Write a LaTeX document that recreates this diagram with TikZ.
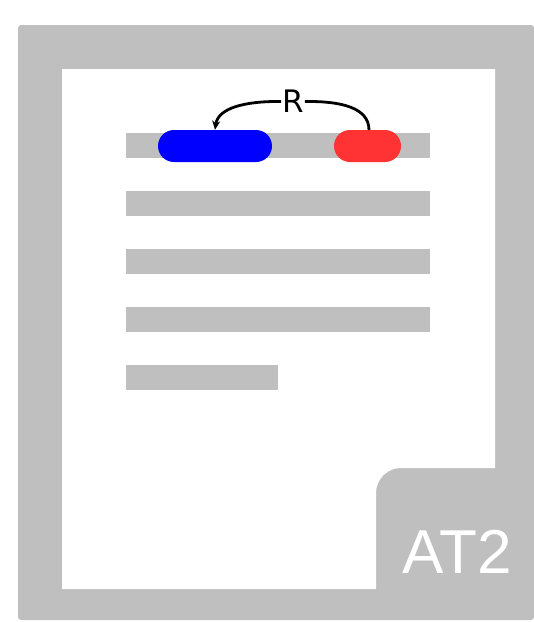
\documentclass[tikz,border=0pt]{standalone}
\usepackage{fontspec}
\setmainfont{Liberation Sans}
\newfontfamily\dejavu{DejaVu Sans}
\usetikzlibrary{arrows.meta}
\definecolor{pagegray}{RGB}{191,191,191}
\definecolor{pillred}{RGB}{255,51,51}
\tikzset{
  bar/.style={fill=pagegray, draw=none},
  pill/.style={rounded corners=16pt, draw=none, minimum height=32pt, inner sep=0pt},
  conn/.style={line width=2.8pt, draw=black}
}
\begin{document}
\begin{tikzpicture}[x=1pt,y=-1pt]
\useasboundingbox (0,0) rectangle (534,622);
% outer page
\fill[pagegray, rounded corners=3pt] (18,25) rectangle (534,620);
% inner white with folded corner cut
\fill[white] (62,69) -- (495,69) -- (495,468) -- (401,468)
  arc[start angle=270, end angle=180, radius=25] -- (376,589) -- (62,589) -- cycle;
% text bars
\fill[bar] (126,133) rectangle (430,158);
\fill[bar] (126,191) rectangle (430,216);
\fill[bar] (126,249) rectangle (430,274);
\fill[bar] (126,307) rectangle (430,332);
\fill[bar] (126,365) rectangle (278,390);
% pills
\node[pill, fill=blue, minimum width=114pt] (blue) at (215,146) {};
\node[pill, fill=pillred, minimum width=67pt] (red) at (367.5,146) {};
% label
\node[inner sep=1pt] (R) at (293,101.5) {\dejavu\fontsize{31}{31}\selectfont R};
\draw[conn] (369,130) .. controls (369,108) and (342,101) .. (R.east);
\draw[conn, -{Stealth[length=9pt,width=8pt]}] (R.west) .. controls (245,101) and (218,108) .. (blue.north);
% AT2
\node[anchor=base, text=white, inner sep=0pt] (at2) at (457,573) {\fontsize{62}{62}\selectfont AT2};
\end{tikzpicture}
\end{document}
